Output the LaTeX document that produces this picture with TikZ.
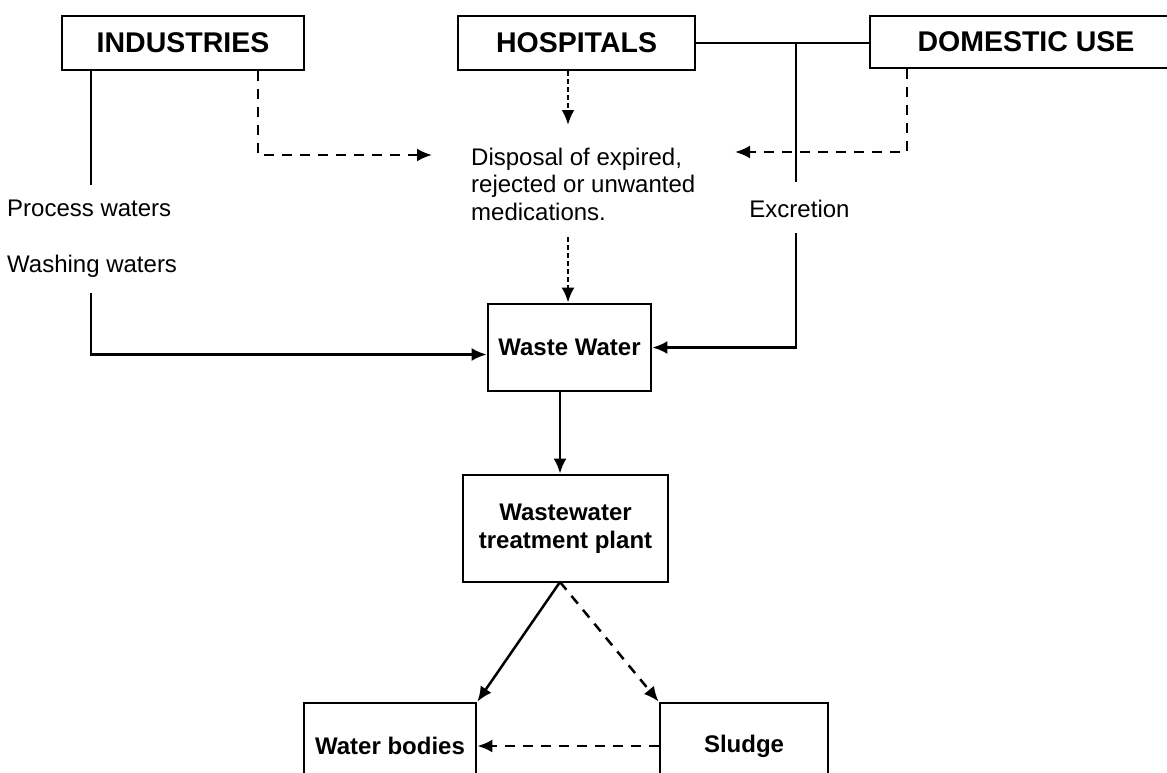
\documentclass[tikz,border=0pt]{standalone}
\usepackage{fontspec}
\setmainfont{Liberation Sans}
\usetikzlibrary{positioning, arrows.meta}
\tikzset{
  box/.style={draw, line width=2.8pt, inner sep=0pt},
  big/.style={font=\fontsize{28.5}{34}\selectfont\bfseries},
  mid/.style={font=\fontsize{24}{28.5}\selectfont\bfseries, align=center},
  txt/.style={font=\fontsize{24}{27.5}\selectfont, inner sep=0pt, align=left},
  ln/.style={line width=2.5pt},
  ar/.style={line width=2.5pt, -{Latex[length=15pt,width=13pt]}},
  dsh/.style={ar, dash pattern=on 10pt off 8pt},
  dt/.style={ar, dash pattern=on 5pt off 3pt}}

\begin{document}
\begin{tikzpicture}[x=1pt, y=-1pt]
	\path[use as bounding box, fill=white] (0,0) rectangle (1167,772);
	\clip (0,0) rectangle (1167,772);
	% sources
	\node[box, big, minimum width=242pt, minimum height=54pt] (ind) at (183,43) {INDUSTRIES};
	\node[box, big, minimum width=237pt, minimum height=54pt] (hos) at (576.5,43) {HOSPITALS};
	\node[box, big, minimum width=312pt, minimum height=52pt] (dom) at (1026,42) {DOMESTIC USE};
	% labels
	\node[txt, anchor=west] (proc) at (7,208) {Process waters};
	\node[txt, anchor=west] (wash) at (7,266) {Washing waters};
	\node[txt, anchor=west] (disp) at (471,184) {Disposal of expired,\\rejected or unwanted\\medications.};
	\node[txt] (exc) at (799.5,209) {Excretion};
	% treatment chain
	\node[box, mid, minimum width=163pt, minimum height=87pt] (ww) at (569.5,347.5) {Waste Water};
	\node[box, mid, minimum width=205pt, minimum height=107pt] (wtp) at (565.5,528.5) {Wastewater\\treatment plant};
	\node[box, mid, minimum width=172pt, minimum height=86pt] (wb) at (390,746) {Water bodies};
	\node[box, mid, minimum width=168pt, minimum height=86pt] (sl) at (744,746) {Sludge};
	\coordinate (i1) at (91,185);
	\coordinate (i2) at (91,293);
	\coordinate (d1) at (258,155);
	\coordinate (dl) at (432,155);
	\coordinate (ht) at (568,125);
	\coordinate (db) at (568,237);
	\coordinate (d2) at (907,152);
	\coordinate (dr) at (735,152);
	\coordinate (e1) at (796,182);
	\coordinate (e2) at (796,233);
	\coordinate (w1) at (560,420);
	\coordinate (t) at (560,582);
	% connectors
	\draw[ln] (ind.south -| i1) -- (i1);
	\draw[ar] (i2) |- ([yshift=-7pt]ww.west);
	\draw[dsh] (ind.south -| d1) |- (dl);
	\draw[dt] (hos.south -| ht) -- (ht);
	\draw[dt] (db) -- (ww.north -| db);
	\draw[dsh] (dom.south -| d2) |- (dr);
	\draw[ln] (hos.east) -- (hos.east -| dom.west);
	\draw[ln] (hos.east -| e1) -- (e1);
	\draw[ar] (e2) |- (ww.east);
	\draw[ar] (ww.south -| w1) -- (wtp.north -| w1);
	\draw[ar] (t) -- (wb.north east);
	\draw[dsh] (t) -- (sl.north west);
	\draw[dsh] (sl.west) -- (wb.east);
\end{tikzpicture}
\end{document}
